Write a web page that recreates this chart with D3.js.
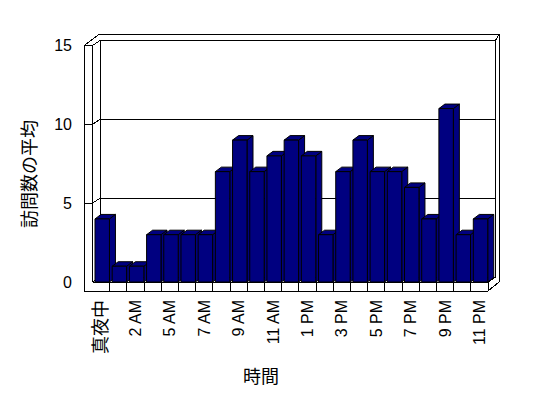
<!DOCTYPE html>
<html>
<head>
<meta charset="utf-8">
<script src="https://cdn.jsdelivr.net/npm/d3@7"></script>
<style>
  body { margin: 0; background: #fff; }
  text { font-family: "Liberation Sans", Arial, "Noto Sans CJK JP", sans-serif; fill: #000; }
</style>
</head>
<body>
<script>
// 時間帯ごとの訪問数の平均
const hours = ["真夜中", "1 AM", "2 AM", "3 AM", "5 AM", "6 AM", "7 AM", "8 AM", "9 AM", "10 AM", "11 AM", "正午",
  "1 PM", "2 PM", "3 PM", "4 PM", "5 PM", "6 PM", "7 PM", "8 PM", "9 PM", "10 PM", "11 PM"];
const visits = [4, 1, 1, 3, 3, 3, 3, 7, 9, 7, 8, 9, 8, 3, 7, 9, 7, 7, 6, 4, 11, 3, 4];
const yTicks = [0, 5, 10, 15];

const svg = d3.select("body").append("svg")
  .attr("width", 548)
  .attr("height", 398);

const x = d3.scaleBand().domain(hours).range([92.5, 488]).padding(0);
const y = d3.scaleLinear().domain([0, 15]).range([282, 45.5]);
const bw = x.bandwidth();

// 壁の奥行き / 棒の奥行き
const dx = 7.5, dy = -5;
const bdx = 6, bdy = -4.5;
const xl = 84, x0 = x.range()[0], x1 = x.range()[1], yBot = 291;
const yTop = y(15), yZero = y(0);

const frame = svg.append("g")
  .attr("fill", "none")
  .attr("stroke", "#000")
  .attr("stroke-width", 1)
  .attr("shape-rendering", "crispEdges");

const line = d3.line();

// 外枠
frame.append("path")
  .attr("fill", "#fff")
  .attr("d", line([[xl, yTop], [xl + 15, yTop - 11], [499, yTop - 11], [499, yZero],
    [x1, yBot], [xl, yBot]]) + "Z");

const segs = [
  [[xl, yTop], [x0, yTop]],
  [[x0, yTop], [x0, yZero]],
  [[x0, yTop], [x0 + dx, yTop + dy]],
  [[x0 + dx, yTop + dy], [x0 + dx, yZero + dy]],
  [[x0 + dx, yTop + dy], [x1 + dx, yTop + dy]],
  [[x1 + dx, yTop + dy], [x1 + dx, yZero + dy]],
  [[x1 + dx, yTop + dy], [499, yTop - 11]],
  [[x0, yZero], [x1, yZero]],
  [[x1, yZero], [x1 + dx, yZero + dy]],
  [[x1, yZero], [x1, yBot]]
];
frame.selectAll("path.seg")
  .data(segs)
  .enter()
  .append("path")
  .attr("class", "seg")
  .attr("d", (d) => line(d));

// 目盛線
yTicks.forEach((v) => {
  frame.append("path").attr("d", line([[x0 + dx, y(v) + dy], [x1 + dx, y(v) + dy]]));
  frame.append("path").attr("d", line([[x0, y(v)], [x0 + dx, y(v) + dy]]));
  if (v > 0) frame.append("path").attr("d", line([[xl, y(v)], [x0, y(v)]]));
});

// 床の区切り
frame.selectAll("path.tick")
  .data(hours.slice(1))
  .enter()
  .append("path")
  .attr("class", "tick")
  .attr("d", (d) => line([[x(d), yZero], [x(d), yBot]]));

// 棒
const bars = svg.append("g")
  .attr("fill", "#000080")
  .attr("stroke", "#000")
  .attr("stroke-width", 1)
  .attr("stroke-linejoin", "miter");

hours.forEach((h, i) => {
  const bx0 = x(h) + bw * 0.145;
  const bx1 = bx0 + bw * 0.84;
  const yt = y(visits[i]);
  const g = bars.append("g");
  g.append("path").attr("d", line([[bx1, yt], [bx1 + bdx, yt + bdy], [bx1 + bdx, yZero + bdy], [bx1, yZero]]) + "Z");
  g.append("path").attr("d", line([[bx0, yt], [bx1, yt], [bx1 + bdx, yt + bdy], [bx0 + bdx, yt + bdy]]) + "Z");
  g.append("path").attr("d", line([[bx0, yt], [bx1, yt], [bx1, yZero], [bx0, yZero]]) + "Z");
});

// Y軸ラベル
svg.selectAll("text.ytick")
  .data(yTicks)
  .enter()
  .append("text")
  .attr("class", "ytick")
  .attr("x", 72)
  .attr("y", (d) => y(d))
  .attr("text-anchor", "end")
  .attr("dominant-baseline", "central")
  .attr("font-size", 16)
  .text((d) => d);

// X軸ラベル（1つおき）
svg.selectAll("text.xtick")
  .data(hours.filter((d, i) => i % 2 === 0))
  .enter()
  .append("text")
  .attr("class", "xtick")
  .attr("transform", (d) => `translate(${x(d) + bw / 2},300) rotate(-90)`)
  .attr("text-anchor", "end")
  .attr("dominant-baseline", "central")
  .attr("font-size", (d) => (/[A-Z]/.test(d) ? 16 : 18))
  .text((d) => d);

svg.append("text")
  .attr("transform", "translate(30,174) rotate(-90)")
  .attr("text-anchor", "middle")
  .attr("dominant-baseline", "central")
  .attr("font-size", 18)
  .text("訪問数の平均");

svg.append("text")
  .attr("x", 261)
  .attr("y", 377)
  .attr("text-anchor", "middle")
  .attr("dominant-baseline", "central")
  .attr("font-size", 18)
  .text("時間");
</script>
</body>
</html>
